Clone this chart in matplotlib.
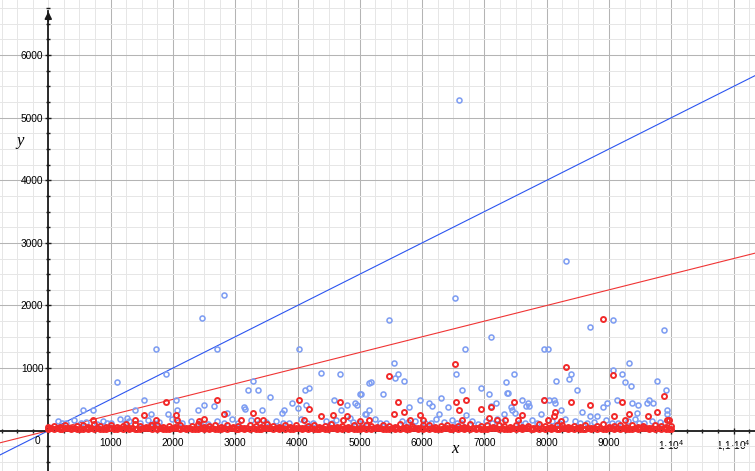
"""
Scatter of two series with the bounding lines y = x/2 and y = x/4
(GeoGebra style axes and grid)
"""

import numpy as np
import matplotlib.pyplot as plt
from matplotlib.ticker import MultipleLocator

# Blue series, outlying points
blue_x = [6597, 8315, 2825, 6528, 2472, 5464, 9069, 8695, 9878, 7106,
          1734, 2708, 4029, 6693, 7957, 8026, 5549, 9326, 9059, 4372,
          1894, 4682, 5608, 6539, 7470, 8395, 9209, 5565, 8358, 3281,
          5714, 8144, 9765, 1108, 5185, 7342, 9257, 5152, 9358, 4189,
          6940, 3371, 4125, 9915, 6640, 3205, 8482, 7374, 5008, 5367,
          5015, 7079, 3563, 6303, 1541, 2050, 4581, 5961, 7608, 7957,
          8037, 8117, 9128, 9637, 3917, 4918, 6106, 7186, 7695, 8133,
          8963, 9369, 9605, 9711, 2504, 4141, 4795, 4960, 6154, 7101,
          7663, 7711, 9465, 2665, 5790, 6411, 8899, 7422, 3136, 4003,
          3157, 562, 712, 1392, 2071, 2408, 3435, 4693, 5152, 7448,
          8225, 9931, 3783, 3756, 8562, 9454, 2863, 5079, 5095, 7319,
          7496, 7903, 1653, 1921, 6271, 9931, 6709, 8695, 8813, 1258,
          4838, 7358]
blue_y = [5283, 2706, 2163, 2120, 1796, 1768, 1768, 1661, 1604, 1502,
          1300, 1300, 1300, 1300, 1300, 1300, 1081, 1081, 970, 922,
          906, 906, 900, 900, 900, 900, 900, 837, 821, 789,
          789, 789, 789, 773, 773, 773, 773, 767, 719, 682,
          682, 655, 655, 655, 650, 645, 645, 597, 581, 581,
          581, 581, 533, 522, 490, 490, 490, 490, 490, 490,
          490, 490, 490, 490, 437, 437, 437, 437, 440, 437,
          437, 437, 450, 450, 405, 405, 405, 405, 400, 400,
          400, 400, 405, 389, 383, 383, 383, 383, 373, 357,
          340, 326, 326, 326, 330, 330, 330, 330, 326, 330,
          326, 330, 325, 290, 294, 283, 277, 272, 272, 272,
          277, 272, 262, 262, 262, 262, 250, 240, 240, 208,
          203, 607]

# Blue series, points just above the dense band
blue_low_x = [150, 290, 420, 600, 780, 880, 1010, 1150, 1300, 1480,
              1600, 1780, 1990, 2150, 2290, 2560, 2700, 2950, 3050, 3250,
              3500, 3650, 3870, 4050, 4250, 4450, 4620, 4890, 5050, 5250,
              5420, 5680, 5880, 6050, 6220, 6350, 6480, 6620, 6800, 6900,
              7030, 7200, 7280, 7550, 7760, 7850, 8080, 8290, 8450, 8530,
              8760, 8950, 9150, 9300, 9420, 9560, 9690, 9820, 9970,
              220, 520, 950, 1230, 1700, 2080, 2430, 2820, 3380, 3760,
              4150, 4550, 4980, 5330, 5780, 6150, 6560, 7120, 7650, 8190,
              8650, 9050, 9480, 9900]
blue_low_y = [150, 120, 170, 140, 110, 160, 130, 180, 150, 120,
              170, 140, 190, 130, 160, 110, 150, 180, 120, 170,
              140, 160, 130, 190, 120, 150, 170, 140, 110, 180,
              130, 160, 150, 120, 190, 140, 170, 130, 160, 110,
              150, 180, 140, 120, 170, 130, 160, 190, 150, 120,
              140, 170, 130, 160, 180, 120, 150, 140, 170,
              120, 130, 115, 125, 120, 135, 115, 125, 130, 120,
              115, 125, 130, 120, 135, 115, 125, 130, 120, 115,
              125, 130, 120, 125]

# Red series, outlying points
red_x = [8904, 6528, 8315, 5464, 9069, 9878, 2703, 4029, 6700, 7957,
         1894, 4682, 5608, 6539, 7470, 8395, 9209, 8695, 7106, 6940,
         4185, 6597, 5714, 8133, 9765, 3281, 2820, 5549, 9326, 1541,
         2050, 4575, 5961, 7608, 4372, 4795, 8112, 9085, 9631, 7079,
         2499, 712, 1392, 1734, 2071, 2415, 3088, 3355, 3441, 4109,
         4725, 5148, 5810, 6010, 6645, 7197, 7335, 7539, 8026, 8225,
         9257, 9931, 9960, 5008, 1247, 1653]
red_y = [1784, 1060, 1018, 879, 885, 554, 495, 495, 490, 490,
         453, 453, 453, 453, 453, 453, 453, 416, 379, 347,
         342, 336, 294, 294, 294, 283, 272, 272, 272, 246,
         246, 246, 246, 246, 235, 235, 240, 240, 240, 203,
         182, 166, 166, 166, 166, 160, 166, 166, 166, 166,
         166, 166, 166, 166, 166, 166, 166, 166, 166, 160,
         166, 166, 166, 150, 102, 95]

# Red series, the dense band along the x axis
red_band_x = [0, 90, 185, 270, 365, 460, 555, 640, 735, 830,
              925, 1010, 1105, 1200, 1290, 1385, 1470, 1565, 1660, 1750,
              1845, 1940, 2030, 2120, 2215, 2310, 2400, 2495, 2585, 2680,
              2770, 2865, 2960, 3050, 3145, 3235, 3330, 3420, 3515, 3610,
              3700, 3795, 3885, 3980, 4070, 4165, 4260, 4350, 4445, 4535,
              4630, 4720, 4815, 4910, 5000, 5095, 5185, 5280, 5370, 5465,
              5560, 5650, 5745, 5835, 5930, 6020, 6115, 6210, 6300, 6395,
              6485, 6580, 6670, 6765, 6860, 6950, 7045, 7135, 7230, 7320,
              7415, 7510, 7600, 7695, 7785, 7880, 7970, 8065, 8160, 8250,
              8345, 8435, 8530, 8620, 8715, 8810, 8900, 8995, 9085, 9180,
              9270, 9365, 9460, 9550, 9645, 9735, 9830, 9920, 10000]
red_band_y0 = [20, 30, 24, 38, 22, 32, 26, 20, 34, 28,
               23, 36, 20, 29, 25, 33, 21, 37, 27, 20,
               31, 24, 35, 22, 30, 26, 20, 34, 28, 23,
               32, 21, 38, 25, 20, 29, 33, 22, 36, 27,
               20, 31, 24, 35, 26, 21, 32, 28, 20, 37,
               23, 30, 25, 34, 20, 29, 22, 36, 27, 31,
               20, 33, 24, 38, 26, 21, 30, 28, 20, 35,
               23, 32, 25, 20, 34, 29, 22, 37, 26, 31,
               20, 33, 24, 36, 28, 21, 30, 25, 20, 35,
               23, 32, 27, 20, 34, 29, 22, 38, 26, 31,
               20, 33, 24, 36, 28, 21, 30, 20, 25]
red_band_y1 = [55, 80, 65, 95, 50, 70, 85, 60, 100, 75,
               55, 90, 65, 80, 50, 105, 70, 60, 85, 95,
               55, 75, 65, 90, 50, 80, 100, 60, 70, 85,
               55, 95, 65, 75, 50, 90, 80, 60, 105, 70,
               55, 85, 65, 95, 50, 75, 90, 60, 80, 100,
               55, 70, 65, 85, 50, 95, 75, 60, 90, 80,
               55, 105, 65, 70, 50, 85, 95, 60, 75, 90,
               55, 80, 65, 100, 50, 70, 85, 60, 95, 75,
               55, 90, 65, 80, 50, 105, 70, 60, 85, 95,
               55, 75, 65, 90, 50, 80, 100, 60, 70, 85,
               55, 95, 65, 75, 50, 90, 80, 60, 70]
red_band_x2 = [45, 138, 228, 318, 412, 508, 598, 688, 782, 878,
               968, 1058, 1152, 1245, 1338, 1428, 1518, 1612, 1705, 1798,
               1892, 1985, 2075, 2168, 2262, 2355, 2448, 2540, 2632, 2725,
               2818, 2912, 3005, 3098, 3190, 3282, 3375, 3468, 3562, 3655,
               3748, 3840, 3932, 4025, 4118, 4212, 4305, 4398, 4490, 4582,
               4675, 4768, 4862, 4955, 5048, 5140, 5232, 5325, 5418, 5512,
               5605, 5698, 5790, 5882, 5975, 6068, 6162, 6255, 6348, 6440,
               6532, 6625, 6718, 6812, 6905, 6998, 7090, 7182, 7275, 7368,
               7462, 7555, 7648, 7740, 7832, 7925, 8018, 8112, 8205, 8298,
               8390, 8482, 8575, 8668, 8762, 8855, 8948, 9040, 9132, 9225,
               9318, 9412, 9505, 9598, 9690, 9782, 9875, 9960]
red_band_y2 = [35, 45, 30, 50, 40, 32, 48, 38, 43, 34,
               46, 31, 41, 37, 49, 33, 44, 39, 36, 47,
               32, 42, 50, 35, 40, 30, 45, 38, 48, 34,
               43, 37, 31, 46, 39, 49, 33, 41, 36, 44,
               35, 47, 32, 40, 50, 38, 30, 45, 34, 42,
               48, 37, 43, 31, 39, 46, 36, 49, 33, 41,
               35, 44, 32, 47, 40, 38, 50, 34, 43, 30,
               45, 37, 41, 48, 36, 32, 46, 39, 49, 33,
               42, 35, 44, 31, 47, 38, 40, 50, 34, 43,
               37, 45, 32, 48, 36, 41, 30, 46, 39, 49,
               33, 42, 35, 44, 38, 47, 40, 32]

# Lines y = k x
blue_slope = 0.5
red_slope = 0.25

x_ticks = [1000, 2000, 3000, 4000, 5000, 6000, 7000, 8000, 9000, 10000, 11000]
x_tick_labels = ['1000', '2000', '3000', '4000', '5000', '6000', '7000',
                 '8000', '9000', r'$1·10^{4}$', r'$1{,}1·10^{4}$']
y_ticks = [1000, 2000, 3000, 4000, 5000, 6000]
y_tick_labels = ['1000', '2000', '3000', '4000', '5000', '6000']

plt.rcParams['font.family'] = ['Liberation Sans', 'DejaVu Sans']
plt.rcParams['mathtext.fontset'] = 'custom'
plt.rcParams['mathtext.rm'] = 'Liberation Sans'
plt.rcParams['mathtext.it'] = 'Liberation Sans'
plt.rcParams['mathtext.default'] = 'regular'

fig = plt.figure(figsize=(7.55, 4.71), dpi=100)
ax = fig.add_axes([0, 0, 1, 1])
xmin, xmax = -775, 11343
ymin, ymax = -644, 6880
ax.set_xlim(xmin, xmax)
ax.set_ylim(ymin, ymax)

# grid
ax.set_axisbelow(True)
ax.xaxis.set_major_locator(MultipleLocator(1000))
ax.yaxis.set_major_locator(MultipleLocator(1000))
ax.xaxis.set_minor_locator(MultipleLocator(250))
ax.yaxis.set_minor_locator(MultipleLocator(250))
ax.grid(which='major', color='#b4b4b4', lw=0.75)
ax.grid(which='minor', color='#e6e6e6', lw=0.7)

# axes through the origin
for s in ['top', 'right']:
    ax.spines[s].set_visible(False)
ax.spines['left'].set_position(('data', 0))
ax.spines['bottom'].set_position(('data', 0))
ax.spines['left'].set_bounds(ymin, 6700)
for s in ['left', 'bottom']:
    ax.spines[s].set_linewidth(1.3)
    ax.spines[s].set_color('#1a1a1a')
ax.tick_params(which='major', direction='inout', length=5, width=1, color='#1a1a1a')
ax.tick_params(which='minor', direction='inout', length=3.5, width=1, color='#1a1a1a')
ax.annotate('', xy=(0, 6740), xytext=(0, 6500),
            arrowprops=dict(arrowstyle='-|>', color='#1a1a1a', lw=1.3,
                            mutation_scale=10))

ax.set_xticks(x_ticks)
ax.set_xticklabels(x_tick_labels, fontsize=7.3)
ax.set_yticks(y_ticks)
ax.set_yticklabels(y_tick_labels, fontsize=7.3)
ax.tick_params(axis='x', pad=3)
ax.tick_params(axis='y', pad=1)
ax.text(-180, -80, '0', fontsize=7.3, ha='center', va='top')
ax.text(6530, -300, 'x', fontsize=12, family='Liberation Serif',
        style='italic', ha='center', va='center')
ax.text(-450, 4620, 'y', fontsize=12, family='Liberation Serif',
        style='italic', ha='center', va='center')

# lines
xx = np.array([xmin, xmax])
ax.plot(xx, blue_slope * xx, color='#2c55f0', lw=0.8, zorder=2)
ax.plot(xx, red_slope * xx, color='#f03434', lw=0.8, zorder=2)

# points
blue_style = dict(ls='none', marker='o', mfc='none', mec='#7f9ef2', ms=3.6, mew=1.15, zorder=3)
red_style = dict(ls='none', marker='o', mfc='none', mec='#f22a2a', ms=3.6, mew=1.4, zorder=4)
ax.plot(blue_x, blue_y, **blue_style)
ax.plot(blue_low_x, blue_low_y, **blue_style)
ax.plot(red_x, red_y, **red_style)
ax.plot(red_band_x, red_band_y1, **red_style)
ax.plot(red_band_x2, red_band_y2, **red_style)
ax.plot(red_band_x, red_band_y0, **red_style)

fig.savefig('out.png', dpi=100)
